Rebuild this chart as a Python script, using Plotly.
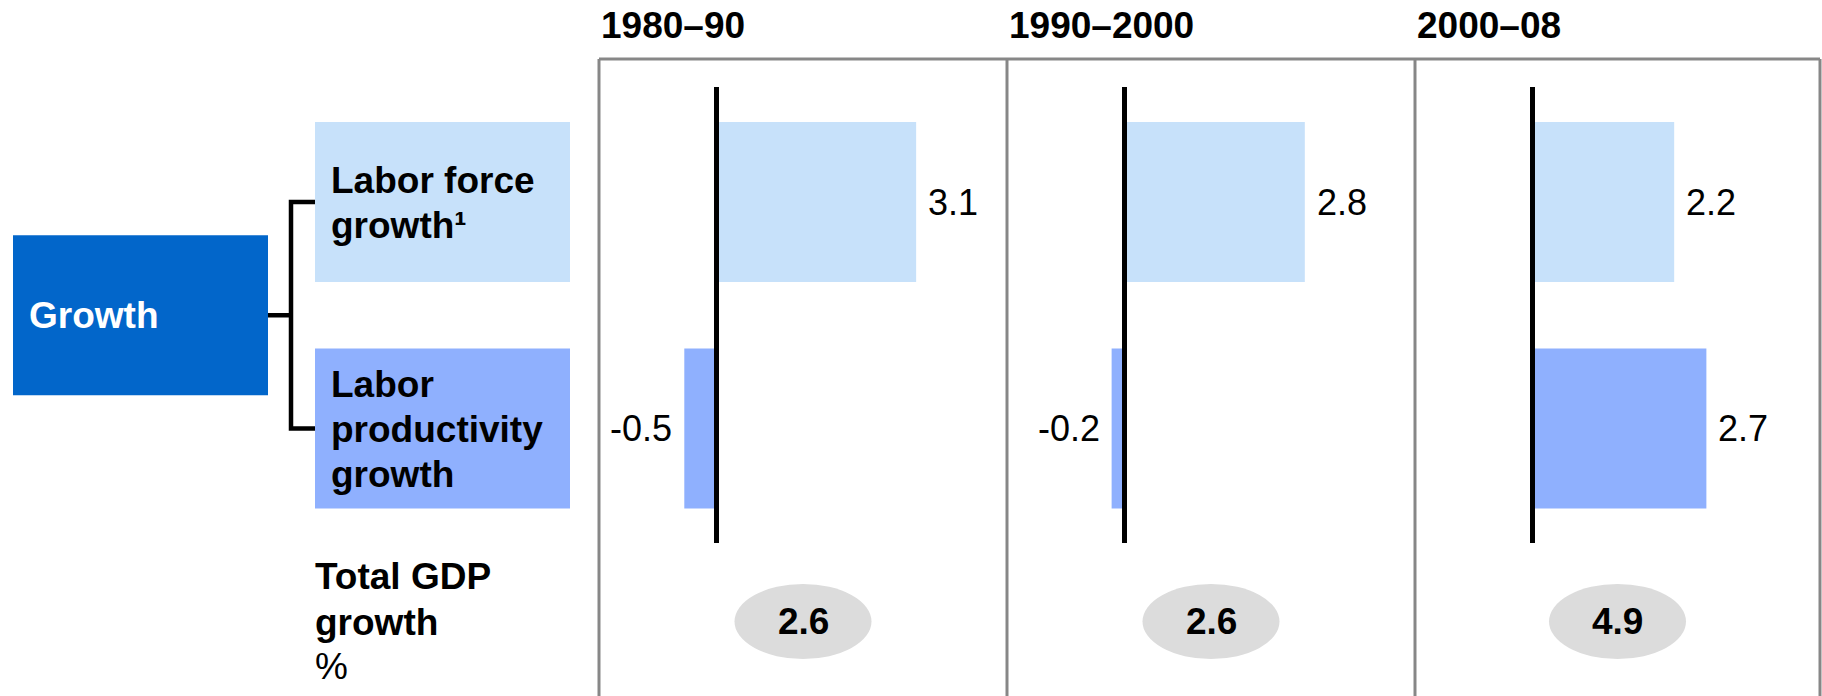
import plotly.graph_objects as go

# ---- data -------------------------------------------------------------
periods = ["1980–90", "1990–2000", "2000–08"]
factors = ["Labor force growth", "Labor productivity growth"]
labor_force = [3.1, 2.8, 2.2]
labor_productivity = [-0.5, -0.2, 2.7]
total_gdp = [2.6, 2.6, 4.9]

# ---- styling ----------------------------------------------------------
W, H = 1822, 696
FONT = "Liberation Sans, Arial, Helvetica, sans-serif"
LIGHT = "#C7E1FA"
MID = "#8FB0FE"
DARK = "#0266CA"
FRAME = "#878787"
OVAL = "#DCDCDC"
TXT = 37
VAL_TXT = 36


def px(x):
    return x / W


def py(y):
    return 1 - y / H


panel_edges = [599, 1007, 1415, 1820]
zero_offset = 117.5   # px from panel left edge to the zero line
unit_px = 64.4        # px per percentage point

# rows: labor force on top (1), productivity below (0)
row_pos = [1, 0]
row_gap = 226.5       # px between row centres
row_top_px = 202      # px of top row centre
bar_w = 160 / row_gap
y_hi = 1 + (row_top_px - 87) / row_gap
y_lo = 1 - (543 - row_top_px) / row_gap

fig = go.Figure()
shapes = []
annotations = []

for i, period in enumerate(periods):
    sfx = "" if i == 0 else str(i + 1)
    left, right = panel_edges[i], panel_edges[i + 1]
    width = right - left
    values = [labor_force[i], labor_productivity[i]]

    fig.add_trace(go.Bar(
        x=values, y=row_pos, orientation="h", width=bar_w,
        marker=dict(color=[LIGHT, MID], line=dict(width=0)),
        xaxis="x" + sfx, yaxis="y", showlegend=False, hoverinfo="skip",
    ))

    fig.update_layout(**{
        "xaxis" + sfx: dict(
            domain=[px(left), px(right)],
            range=[-zero_offset / unit_px, (width - zero_offset) / unit_px],
            anchor="y", visible=False, fixedrange=True,
        )
    })

    # zero line
    shapes.append(dict(type="line", xref="x" + sfx, yref="y domain",
                       x0=0, x1=0, y0=0, y1=1, layer="above",
                       line=dict(color="black", width=5)))

    # value labels beside each bar
    for v, pos in zip(values, row_pos):
        annotations.append(dict(
            x=v, y=pos, xref="x" + sfx, yref="y", showarrow=False,
            text=f"{v:.1f}", xanchor="left" if v >= 0 else "right",
            xshift=10 if v >= 0 else -10, yanchor="middle",
            font=dict(size=VAL_TXT, color="black", family=FONT),
        ))

    # period header
    annotations.append(dict(
        x=0, xref=f"x{sfx} domain", y=py(25), yref="paper",
        xanchor="left", yanchor="middle", showarrow=False,
        text=f"<b>{period}</b>",
        font=dict(size=TXT, color="black", family=FONT),
    ))

    # total GDP oval
    half = 68.5 / width
    shapes.append(dict(type="circle", xref=f"x{sfx} domain", yref="paper",
                       x0=0.5 - half, x1=0.5 + half, y0=py(659), y1=py(584),
                       fillcolor=OVAL, line=dict(width=0), layer="below"))
    annotations.append(dict(
        x=0.5, xref=f"x{sfx} domain", y=py(621), yref="paper",
        xanchor="center", yanchor="middle", showarrow=False,
        text=f"<b>{total_gdp[i]:.1f}</b>",
        font=dict(size=TXT, color="black", family=FONT),
    ))

# panel frame: top rule plus vertical separators
shapes.append(dict(type="line", xref="paper", yref="paper",
                   x0=px(panel_edges[0]), x1=px(panel_edges[-1]),
                   y0=py(59), y1=py(59), line=dict(color=FRAME, width=3)))
for e in panel_edges:
    shapes.append(dict(type="line", xref="paper", yref="paper",
                       x0=px(e), x1=px(e), y0=py(59), y1=0,
                       line=dict(color=FRAME, width=3)))

# driver tree on the left
for pos, col in zip(row_pos, [LIGHT, MID]):
    shapes.append(dict(type="rect", xref="paper", yref="y",
                       x0=px(315), x1=px(570),
                       y0=pos - bar_w / 2, y1=pos + bar_w / 2,
                       fillcolor=col, line=dict(width=0), layer="below"))
mid_row = (row_pos[0] + row_pos[1]) / 2
shapes.append(dict(type="rect", xref="paper", yref="y",
                   x0=px(13), x1=px(268),
                   y0=mid_row - bar_w / 2, y1=mid_row + bar_w / 2,
                   fillcolor=DARK, line=dict(width=0), layer="below"))
shapes.append(dict(type="path", xref="paper", yref="y",
                   path=(f"M {px(315)},{row_pos[0]} L {px(291)},{row_pos[0]} "
                         f"L {px(291)},{row_pos[1]} L {px(315)},{row_pos[1]}"),
                   line=dict(color="black", width=4.5)))
shapes.append(dict(type="line", xref="paper", yref="y",
                   x0=px(268), x1=px(291), y0=mid_row, y1=mid_row,
                   line=dict(color="black", width=4.5)))


def label(text, x, y, color="black"):
    annotations.append(dict(
        x=px(x), y=py(y), xref="paper", yref="paper",
        xanchor="left", yanchor="middle", showarrow=False, text=text,
        font=dict(size=TXT, color=color, family=FONT),
    ))


label("<b>Growth</b>", 27, 315, "white")
label("<b>Labor force</b>", 329, 181)
label("<b>growth¹</b>", 329, 225)
label("<b>Labor</b>", 329, 384)
label("<b>productivity</b>", 329, 429)
label("<b>growth</b>", 329, 474)
label("<b>Total GDP</b>", 313, 576)
label("<b>growth</b>", 313, 622)
label("%", 313, 666)

fig.update_layout(
    width=W, height=H,
    margin=dict(l=0, r=0, t=0, b=0),
    paper_bgcolor="white", plot_bgcolor="white",
    showlegend=False, barmode="overlay",
    font=dict(family=FONT, color="black"),
    yaxis=dict(domain=[py(543), py(87)], range=[y_lo, y_hi],
               anchor="x", visible=False, fixedrange=True),
    shapes=shapes, annotations=annotations,
)

fig.write_html("out.html")
